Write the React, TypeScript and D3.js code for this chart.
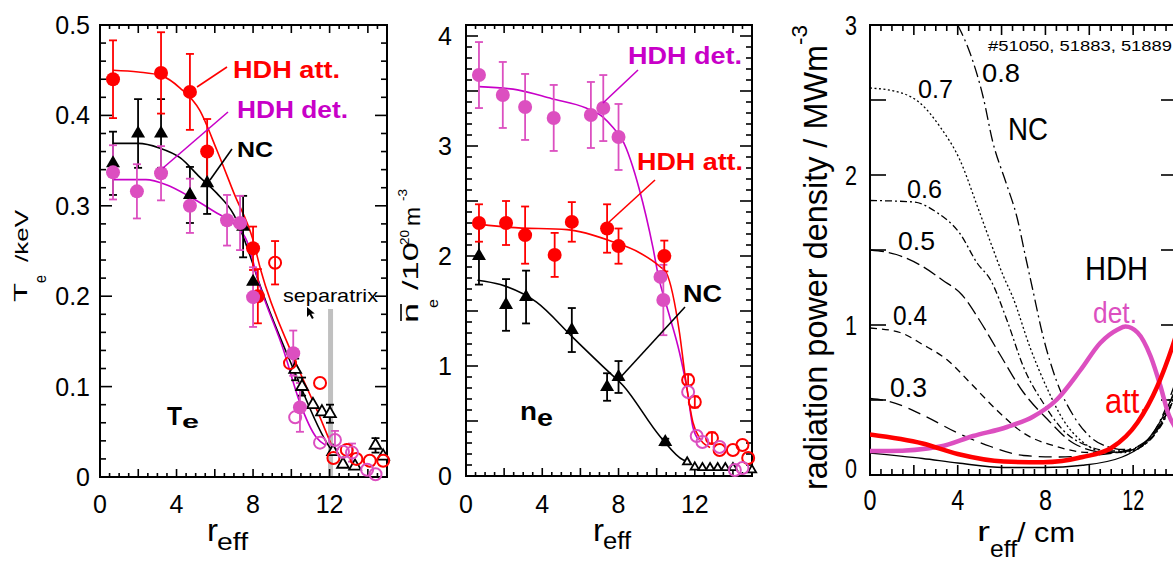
import React from 'react';
import * as d3 from 'd3';

const W = 1173;
const H = 563;
const FONT = "'Liberation Sans', Arial, Helvetica, sans-serif";
const NARROW = "'Liberation Sans Narrow', 'Arial Narrow', 'Liberation Sans', Arial, sans-serif";
const RED = '#ff0000';
const PINK = '#dc4fc0';
const MAG = '#c800c8';

// ---------- Panel (a): Te [keV] vs r_eff ----------  [r, value, error]
const teAttFilled = [[0.68, 0.44, 0.043], [3.19, 0.447, 0.045], [4.7, 0.426, 0.042], [5.6, 0.36, 0.036], [8.0, 0.253, 0.024], [8.25, 0.2, 0.03]];
const teAttOpen = [[9.15, 0.237, 0.024], [9.93, 0.126, 0], [11.5, 0.104, 0], [12.2, 0.021, 0], [12.9, 0.03, 0], [13.4, 0.02, 0], [14.1, 0.018, 0], [14.8, 0.018, 0]];
const teDetFilled = [[0.68, 0.337, 0.03], [1.93, 0.316, 0.03], [3.19, 0.336, 0.03], [4.7, 0.3, 0.03], [6.64, 0.284, 0.028], [7.32, 0.281, 0.03], [8.0, 0.199, 0.033], [10.1, 0.137, 0.025], [10.45, 0.077, 0.027]];
const teDetOpen = [[10.2, 0.066, 0], [11.5, 0.038, 0], [12.28, 0.041, 0.01], [12.7, 0.028, 0], [13.17, 0.027, 0.01], [13.96, 0.008, 0], [14.4, 0.003, 0]];
const teNcFilled = [[0.68, 0.347, 0.035], [1.99, 0.38, 0.038], [3.19, 0.38, 0.038], [4.7, 0.312, 0.031], [5.6, 0.325, 0.034], [7.48, 0.277, 0.034], [8.0, 0.216, 0]];
const teNcOpen = [[10.2, 0.119, 0.012], [10.56, 0.1, 0.01], [11.13, 0.08, 0], [11.6, 0.072, 0], [12.02, 0.07, 0.01], [12.18, 0.028, 0], [12.7, 0.014, 0], [13.33, 0.012, 0], [14.4, 0.035, 0.008], [14.8, 0.023, 0]];
const teAttLine = [[0.68, 0.45], [2, 0.448], [3.2, 0.444], [4.2, 0.43], [5.2, 0.406], [6.1, 0.362], [7.0, 0.314], [8.0, 0.262], [8.4, 0.229], [10.1, 0.133], [11.5, 0.066], [12.2, 0.03]];
const teNcLine = [[0.68, 0.369], [2.0, 0.369], [3.1, 0.364], [4.2, 0.353], [5.2, 0.332], [6.1, 0.314], [7.0, 0.29], [8.0, 0.235], [8.2, 0.222], [10.1, 0.12], [12.0, 0.033], [12.3, 0.025]];
const teDetLine = [[0.68, 0.329], [2.4, 0.329], [3.5, 0.323], [4.7, 0.31], [6.1, 0.292], [7.0, 0.28], [7.7, 0.26], [8.3, 0.215], [9.6, 0.14], [10.45, 0.082], [11.3, 0.044], [11.8, 0.035]];
const teYTicks = [0, 0.1, 0.2, 0.3, 0.4, 0.5];
const teYLabels = ['0', '0.1', '0.2', '0.3', '0.4', '0.5'];
const rTicks = [0, 4, 8, 12];
const rLabels = ['0', '4', '8', '12'];
const separatrixR = 12.05;

// ---------- Panel (b): ne [10^20 m^-3] vs r_eff ----------
const neDetFilled = [[0.68, 3.645, 0.3], [1.93, 3.464, 0.3], [3.1, 3.355, 0.3], [4.6, 3.255, 0.3], [6.55, 3.282, 0.3], [7.2, 3.345, 0.3], [8.0, 3.082, 0.3], [10.2, 1.81, 0], [10.35, 1.6, 0.32]];
const neDetOpen = [[11.65, 0.764, 0], [12.1, 0.364, 0], [12.4, 0.309, 0], [13.3, 0.264, 0], [14.1, 0.055, 0], [14.5, 0.073, 0]];
const neAttFilled = [[0.68, 2.3, 0.17], [2.1, 2.3, 0.2], [3.1, 2.19, 0.26], [4.65, 2.01, 0.2], [5.55, 2.31, 0.18], [7.4, 2.25, 0.22], [8.0, 2.09, 0.16], [10.4, 2.0, 0.14]];
const neAttOpen = [[11.65, 0.873, 0.05], [12.0, 0.673, 0.05], [12.9, 0.345, 0.05], [13.3, 0.236, 0], [14.0, 0.236, 0], [14.5, 0.282, 0], [14.8, 0.164, 0]];
const neNcFilled = [[0.68, 2.0, 0.26], [2.1, 1.555, 0.235], [3.15, 1.627, 0.24], [5.55, 1.327, 0.2], [7.4, 0.809, 0.125], [8.0, 0.9, 0.145], [10.45, 0.309, 0.03]];
const neNcOpen = [[11.6, 0.127], [12.0, 0.08], [12.4, 0.075], [12.8, 0.075], [13.2, 0.075], [13.6, 0.075], [14.0, 0.075], [15.0, 0.055]];
const neDetLine = [[0.68, 3.54], [2.7, 3.51], [4.5, 3.43], [6.3, 3.345], [7.2, 3.26], [7.7, 3.17], [8.2, 3.055], [9.1, 2.6], [9.8, 2.08], [10.1, 1.81], [10.6, 1.5], [11.2, 1.12], [11.6, 0.78], [11.9, 0.445], [12.2, 0.33]];
const neAttLine = [[0.68, 2.29], [2.3, 2.26], [5.3, 2.24], [7.7, 2.13], [9.1, 2.03], [10.2, 1.9], [10.5, 1.85], [11.2, 1.3], [11.5, 0.9], [11.9, 0.49], [12.3, 0.33], [12.8, 0.26]];
const neNcLine = [[0.6, 1.78], [1.8, 1.74], [3.7, 1.58], [5.6, 1.26], [7.4, 0.96], [8.2, 0.83], [10.2, 0.355], [11.4, 0.145], [11.7, 0.13]];
const neYTicks = [0, 1, 2, 3, 4];
const neYLabels = ['0', '1', '2', '3', '4'];

// ---------- Panel (c): radiation power density [MW m^-3] vs r_eff [cm] ----------
const radNc08 = [[4.0, 3.0], [4.57, 2.81], [5.16, 2.52], [5.6, 2.22], [6.2, 1.95], [6.7, 1.72], [7.1, 1.45], [7.4, 1.25], [7.9, 0.92], [8.5, 0.63], [9.3, 0.39], [10.0, 0.26], [10.8, 0.19], [11.6, 0.17], [12.4, 0.2], [13.0, 0.3], [13.5, 0.45], [14, 0.65]];
const radNc07 = [[0, 2.58], [1.37, 2.55], [2.28, 2.48], [3.2, 2.32], [4.1, 2.1], [4.9, 1.79], [5.5, 1.55], [6.1, 1.32], [6.5, 1.19], [7.3, 0.85], [8.1, 0.57], [8.8, 0.37], [9.7, 0.22], [10.8, 0.15], [11.6, 0.15], [12.4, 0.19], [13.0, 0.28], [13.5, 0.42], [14, 0.6]];
const radNc06 = [[0, 1.83], [2.0, 1.82], [3.05, 1.75], [4.1, 1.61], [4.9, 1.41], [5.5, 1.3], [6.25, 1.03], [7.0, 0.72], [7.9, 0.48], [8.8, 0.3], [10, 0.19], [11, 0.16], [11.8, 0.16], [12.5, 0.2], [13.1, 0.29], [13.6, 0.42], [14, 0.58]];
const radNc05 = [[0, 1.5], [1.2, 1.47], [2.4, 1.39], [3.3, 1.3], [4.2, 1.2], [5.0, 1.03], [5.9, 0.81], [7.0, 0.55], [8.1, 0.37], [9.3, 0.21], [10.8, 0.15], [11.7, 0.16], [12.5, 0.21], [13.1, 0.3], [13.6, 0.43], [14, 0.57]];
const radNc04 = [[0, 0.98], [1.37, 0.95], [2.4, 0.87], [3.5, 0.77], [4.6, 0.61], [5.8, 0.43], [7.0, 0.28], [8.5, 0.19], [10, 0.15], [11.2, 0.15], [12.2, 0.18], [12.9, 0.26], [13.5, 0.4], [14, 0.55]];
const radNc03 = [[0, 0.51], [0.9, 0.49], [2.4, 0.4], [4.0, 0.28], [5.5, 0.19], [7.0, 0.13], [8.5, 0.12], [10, 0.13], [11.2, 0.15], [12.2, 0.19], [12.9, 0.27], [13.5, 0.4], [14, 0.53]];
const radNcLow = [[0, 0.146], [2.4, 0.11], [4.0, 0.08], [6.1, 0.05], [7.9, 0.05], [9.7, 0.065], [11.5, 0.12], [12.8, 0.26], [13.5, 0.43], [14, 0.6]];
const radDet = [[0, 0.16], [0.9, 0.16], [3.2, 0.19], [4.7, 0.26], [6.25, 0.32], [7.45, 0.39], [8.5, 0.5], [9.6, 0.7], [10.5, 0.88], [11.3, 0.97], [11.65, 0.99], [12.2, 0.95], [12.8, 0.79], [13.25, 0.59], [13.6, 0.41], [14, 0.3]];
const radAtt = [[0, 0.27], [2.4, 0.21], [4.0, 0.14], [6.1, 0.09], [7.9, 0.085], [9.7, 0.12], [11.0, 0.18], [12.2, 0.35], [13.1, 0.59], [13.8, 0.86], [14, 0.95]];
const radNcCurves = [
  { label: '0.8', data: radNc08, dash: '12,4,2,4' },
  { label: '0.7', data: radNc07, dash: '2,2.5' },
  { label: '0.6', data: radNc06, dash: '7,3,2,3' },
  { label: '0.5', data: radNc05, dash: '14,5' },
  { label: '0.4', data: radNc04, dash: '7,5' },
  { label: '0.3', data: radNc03, dash: '13,7' },
  { label: '', data: radNcLow, dash: '' },
];
const radYTicks = [0, 1, 2, 3];
const radYLabels = ['0', '1', '2', '3'];
const shotText = '#51050, 51883, 51889';

// ---------- scales ----------
const xA = d3.scaleLinear().domain([0, 15]).range([100, 387]);
const yA = d3.scaleLinear().domain([0, 0.5]).range([477, 25]);
const xB = d3.scaleLinear().domain([0, 15]).range([466, 752]);
const yB = d3.scaleLinear().domain([0, 4.1]).range([476, 25]);
const xC = d3.scaleLinear().domain([0, 14]).range([870, 1177]);
const yC = d3.scaleLinear().domain([0, 3]).range([475, 25]);

type Sc = d3.ScaleLinear<number, number>;

function path(xs: Sc, ys: Sc, data: number[][]) {
  return d3.line<number[]>().x(d => xs(d[0])).y(d => ys(d[1])).curve(d3.curveMonotoneX)(data) || '';
}

const near = (v: number, step: number) => Math.abs(v / step - Math.round(v / step)) < 1e-6;

function Frame(props: {
  xs: Sc; ys: Sc; xMinor: number[]; xMajorStep: number; yMinor: number[]; yMajorStep: number;
  xMin: number; xMaj: number; yMin: number; yMaj: number;
}) {
  const { xs, ys, xMinor, xMajorStep, yMinor, yMajorStep, xMin, xMaj, yMin, yMaj } = props;
  const [x0, x1] = xs.range();
  const [y0, y1] = ys.range();
  const items: React.ReactNode[] = [];
  xMinor.forEach((v, i) => {
    const L = near(v, xMajorStep) ? xMaj : xMin;
    const x = xs(v);
    items.push(<line key={'xb' + i} x1={x} x2={x} y1={y0} y2={y0 - L} />);
    items.push(<line key={'xt' + i} x1={x} x2={x} y1={y1} y2={y1 + L} />);
  });
  yMinor.forEach((v, i) => {
    const L = near(v, yMajorStep) ? yMaj : yMin;
    const y = ys(v);
    items.push(<line key={'yl' + i} x1={x0} x2={x0 + L} y1={y} y2={y} />);
    items.push(<line key={'yr' + i} x1={x1} x2={x1 - L} y1={y} y2={y} />);
  });
  return (
    <g stroke="#000" strokeWidth={1.6} fill="none">
      {items}
      <rect x={x0} y={y1} width={x1 - x0} height={y0 - y1} strokeWidth={2} />
    </g>
  );
}

function ErrBars({ xs, ys, data, color }: { xs: Sc; ys: Sc; data: number[][]; color: string }) {
  return (
    <g stroke={color} strokeWidth={1.8}>
      {data.filter(d => d[2] > 0).map((d, i) => {
        const x = xs(d[0]);
        const ya = ys(d[1] + d[2]);
        const yb = ys(d[1] - d[2]);
        return (
          <g key={i}>
            <line x1={x} x2={x} y1={ya} y2={yb} />
            <line x1={x - 4} x2={x + 4} y1={ya} y2={ya} />
            <line x1={x - 4} x2={x + 4} y1={yb} y2={yb} />
          </g>
        );
      })}
    </g>
  );
}

function Circles({ xs, ys, data, color, open }: { xs: Sc; ys: Sc; data: number[][]; color: string; open?: boolean }) {
  return (
    <g>
      {data.map((d, i) => open
        ? <circle key={i} cx={xs(d[0])} cy={ys(d[1])} r={6} fill="none" stroke={color} strokeWidth={2} />
        : <circle key={i} cx={xs(d[0])} cy={ys(d[1])} r={7} fill={color} />)}
    </g>
  );
}

const triFilled = d3.symbol(d3.symbolTriangle, 85)() || '';
const triOpen = d3.symbol(d3.symbolTriangle, 60)() || '';
const triSmall = d3.symbol(d3.symbolTriangle, 30)() || '';

function Triangles({ xs, ys, data, open, small }: { xs: Sc; ys: Sc; data: number[][]; open?: boolean; small?: boolean }) {
  return (
    <g>
      {data.map((d, i) => (
        <path key={i} transform={`translate(${xs(d[0])},${ys(d[1])})`}
          d={open ? (small ? triSmall : triOpen) : triFilled}
          fill={open ? '#fff' : '#000'} stroke="#000" strokeWidth={open ? 1.8 : 0} />
      ))}
    </g>
  );
}

function Txt(p: {
  x: number; y: number; s: string; size: number; len?: number; anchor?: string; weight?: string;
  fill?: string; rot?: boolean; family?: string;
}) {
  const common: any = {
    fontSize: p.size, fontFamily: p.family || FONT, fontWeight: p.weight || 'normal',
    fill: p.fill || '#000', textAnchor: p.anchor || 'start',
  };
  if (p.len) { common.textLength = p.len; common.lengthAdjust = 'spacingAndGlyphs'; }
  if (p.rot) {
    return <text x={0} y={0} transform={`translate(${p.x},${p.y}) rotate(-90)`} {...common}>{p.s}</text>;
  }
  return <text x={p.x} y={p.y} {...common}>{p.s}</text>;
}

export default function App() {
  const xMinorAB = d3.range(0, 15.01, 0.5);
  const xMinorC = d3.range(0, 14.01, 0.5);
  const teMinor = d3.range(0, 0.5001, 0.02);
  const neMinor = d3.range(0, 4.1001, 0.1);
  const radMinor = d3.range(0, 3.001, 0.5);

  return (
    <svg width={W} height={H} viewBox={`0 0 ${W} ${H}`}
      style={{ position: 'absolute', left: 0, top: 0, background: '#fff', display: 'block' }}>
      <defs>
        <clipPath id="clipC"><rect x={870} y={25} width={307} height={450} /></clipPath>
      </defs>
      <rect x={0} y={0} width={W} height={H} fill="#fff" />

      {/* ================= Panel (a) ================= */}
      <rect x={xA(separatrixR) - 2.5} y={309} width={5} height={yA(0) - 309} fill="#c0c0c0" />
      <Frame xs={xA} ys={yA} xMinor={xMinorAB} xMajorStep={2} yMinor={teMinor} yMajorStep={0.1}
        xMin={4} xMaj={8} yMin={6} yMaj={12} />
      <g fill="none" strokeWidth={1.6}>
        <path d={path(xA, yA, teNcLine)} stroke="#000" />
        <path d={path(xA, yA, teDetLine)} stroke={MAG} />
        <path d={path(xA, yA, teAttLine)} stroke={RED} />
      </g>
      <ErrBars xs={xA} ys={yA} data={teNcFilled} color="#000" />
      <ErrBars xs={xA} ys={yA} data={teNcOpen} color="#000" />
      <ErrBars xs={xA} ys={yA} data={teAttFilled} color={RED} />
      <ErrBars xs={xA} ys={yA} data={teAttOpen} color={RED} />
      <ErrBars xs={xA} ys={yA} data={teDetFilled} color={PINK} />
      <ErrBars xs={xA} ys={yA} data={teDetOpen} color={PINK} />
      <Triangles xs={xA} ys={yA} data={teNcOpen} open />
      <Circles xs={xA} ys={yA} data={teAttOpen} color={RED} open />
      <Circles xs={xA} ys={yA} data={teDetOpen} color={PINK} open />
      <Triangles xs={xA} ys={yA} data={teNcFilled} />
      <Circles xs={xA} ys={yA} data={teAttFilled} color={RED} />
      <Circles xs={xA} ys={yA} data={teDetFilled} color={PINK} />
      {/* leader lines */}
      <line x1={197} y1={87} x2={227} y2={67} stroke={RED} strokeWidth={1.6} />
      <line x1={163} y1={168} x2={228} y2={112} stroke={MAG} strokeWidth={1.6} />
      <line x1={210} y1={180} x2={232} y2={149} stroke="#000" strokeWidth={1.6} />
      <Txt x={233} y={78} s="HDH att." size={24} len={107} weight="bold" fill={RED} />
      <Txt x={237} y={118} s="HDH det." size={24} len={111} weight="bold" fill={MAG} />
      <Txt x={237} y={157} s="NC" size={22} len={36} weight="bold" />
      <Txt x={167} y={425} s="T" size={25} len={15} weight="bold" />
      <Txt x={182} y={428} s="e" size={19} len={17} weight="bold" />
      <Txt x={283} y={302} s="separatrix" size={19} len={95} />
      <path d="M307,307 l0,10 l2.5,-2.5 l2.5,4.5 l1.8,-1 l-2.5,-4.3 l3.5,-0.2 z" fill="#000" />
      {teYTicks.map((v, i) => (
        <Txt key={'ay' + i} x={90} y={yA(v) + 9} s={teYLabels[i]} size={25} anchor="end" />
      ))}
      {rTicks.map((v, i) => (
        <Txt key={'ax' + i} x={xA(v)} y={513} s={rLabels[i]} size={25} anchor="middle" />
      ))}
      <Txt x={207} y={541} s="r" size={32} len={11} />
      <Txt x={217} y={550} s="eff" size={23} len={31} />
      <Txt x={27} y={302} s="T" size={18} len={19} rot />
      <Txt x={46} y={283} s="e" size={16} len={8} rot />
      <Txt x={28} y={262} s="/keV" size={18} len={52} rot />

      {/* ================= Panel (b) ================= */}
      <Frame xs={xB} ys={yB} xMinor={xMinorAB} xMajorStep={2} yMinor={neMinor} yMajorStep={0.5}
        xMin={4} xMaj={8} yMin={6} yMaj={12} />
      <g fill="none" strokeWidth={1.6}>
        <path d={path(xB, yB, neNcLine)} stroke="#000" />
        <path d={path(xB, yB, neDetLine)} stroke={MAG} />
        <path d={path(xB, yB, neAttLine)} stroke={RED} />
      </g>
      <ErrBars xs={xB} ys={yB} data={neNcFilled} color="#000" />
      <ErrBars xs={xB} ys={yB} data={neDetFilled} color={PINK} />
      <ErrBars xs={xB} ys={yB} data={neAttFilled} color={RED} />
      <ErrBars xs={xB} ys={yB} data={neAttOpen} color={RED} />
      <Triangles xs={xB} ys={yB} data={neNcOpen} open small />
      <Circles xs={xB} ys={yB} data={neAttOpen} color={RED} open />
      <Circles xs={xB} ys={yB} data={neDetOpen} color={PINK} open />
      <Triangles xs={xB} ys={yB} data={neNcFilled} />
      <Circles xs={xB} ys={yB} data={neAttFilled} color={RED} />
      <Circles xs={xB} ys={yB} data={neDetFilled} color={PINK} />
      <line x1={603} y1={103} x2={638} y2={70} stroke={MAG} strokeWidth={1.6} />
      <line x1={608} y1={223} x2={655} y2={180} stroke={RED} strokeWidth={1.6} />
      <line x1={618} y1={380} x2={685} y2={307} stroke="#000" strokeWidth={1.6} />
      <Txt x={628} y={64} s="HDH det." size={23} len={114} weight="bold" fill={MAG} />
      <Txt x={637} y={170} s="HDH att." size={24} len={106} weight="bold" fill={RED} />
      <Txt x={683} y={302} s="NC" size={23} len={39} weight="bold" />
      <Txt x={520} y={420} s="n" size={25} len={17} weight="bold" />
      <Txt x={537} y={426} s="e" size={23} len={16} weight="bold" />
      {neYTicks.map((v, i) => (
        <Txt key={'by' + i} x={452} y={yB(v) + 9} s={neYLabels[i]} size={25} anchor="end" />
      ))}
      {rTicks.map((v, i) => (
        <Txt key={'bx' + i} x={xB(v)} y={513} s={rLabels[i]} size={25} anchor="middle" />
      ))}
      <Txt x={593} y={541} s="r" size={32} len={11} />
      <Txt x={603} y={549} s="eff" size={23} len={28} />
      <Txt x={418} y={323} s="n" size={22} len={20} rot />
      <line x1={401} x2={401} y1={304} y2={321} stroke="#000" strokeWidth={1.6} />
      <Txt x={438} y={308} s="e" size={15} len={9} rot />
      <Txt x={418} y={290} s="/10" size={22} len={48} rot />
      <Txt x={409} y={245} s="20" size={13} len={15} rot />
      <Txt x={420} y={226} s="m" size={22} len={19} rot />
      <Txt x={407} y={201} s="-3" size={13} len={12} rot />

      {/* ================= Panel (c) ================= */}
      <Frame xs={xC} ys={yC} xMinor={xMinorC} xMajorStep={2} yMinor={radMinor} yMajorStep={0.5}
        xMin={6} xMaj={10} yMin={16} yMaj={16} />
      <g clipPath="url(#clipC)" fill="none">
        {radNcCurves.map((c, i) => (
          <path key={i} d={path(xC, yC, c.data)} stroke="#000" strokeWidth={1.3}
            strokeDasharray={c.dash || undefined} />
        ))}
        <path d={path(xC, yC, radDet)} stroke={PINK} strokeWidth={4.5} />
        <path d={path(xC, yC, radAtt)} stroke={RED} strokeWidth={4.5} />
      </g>
      <Txt x={988} y={51} s={shotText} size={15} len={184} />
      <Txt x={982} y={82} s="0.8" size={26} len={38} family={NARROW} />
      <Txt x={918} y={98} s="0.7" size={26} len={35} family={NARROW} />
      <Txt x={907} y={198} s="0.6" size={26} len={35} family={NARROW} />
      <Txt x={898} y={250} s="0.5" size={26} len={37} family={NARROW} />
      <Txt x={893} y={325} s="0.4" size={27} len={34} family={NARROW} />
      <Txt x={890} y={397} s="0.3" size={27} len={37} family={NARROW} />
      <Txt x={1008} y={140} s="NC" size={32} len={40} family={NARROW} />
      <Txt x={1085} y={280} s="HDH" size={34} len={63} family={NARROW} />
      <Txt x={1093} y={323} s="det." size={29} len={44} fill={PINK} family={NARROW} />
      <Txt x={1105} y={413} s="att." size={35} len={43} fill={RED} family={NARROW} />
      {radYTicks.map((v, i) => (
        <Txt key={'cy' + i} x={857} y={Math.min(yC(v) + 10, 478)} s={radYLabels[i]} size={28} len={12}
          anchor="end" family={NARROW} />
      ))}
      {rTicks.map((v, i) => (
        <Txt key={'cx' + i} x={xC(v)} y={510} s={rLabels[i]} size={30} len={v >= 10 ? 22 : 13}
          anchor="middle" family={NARROW} />
      ))}
      <Txt x={977} y={541} s="r" size={28} len={13} family={NARROW} />
      <Txt x={990} y={557} s="eff" size={24} len={27} family={NARROW} />
      <Txt x={1017} y={542} s="/ cm" size={28} len={58} family={NARROW} />
      <Txt x={827} y={490} s="radiation power density / MWm" size={34} len={445} rot family={NARROW} />
      <Txt x={807} y={45} s="-3" size={22} len={20} rot family={NARROW} />
    </svg>
  );
}
